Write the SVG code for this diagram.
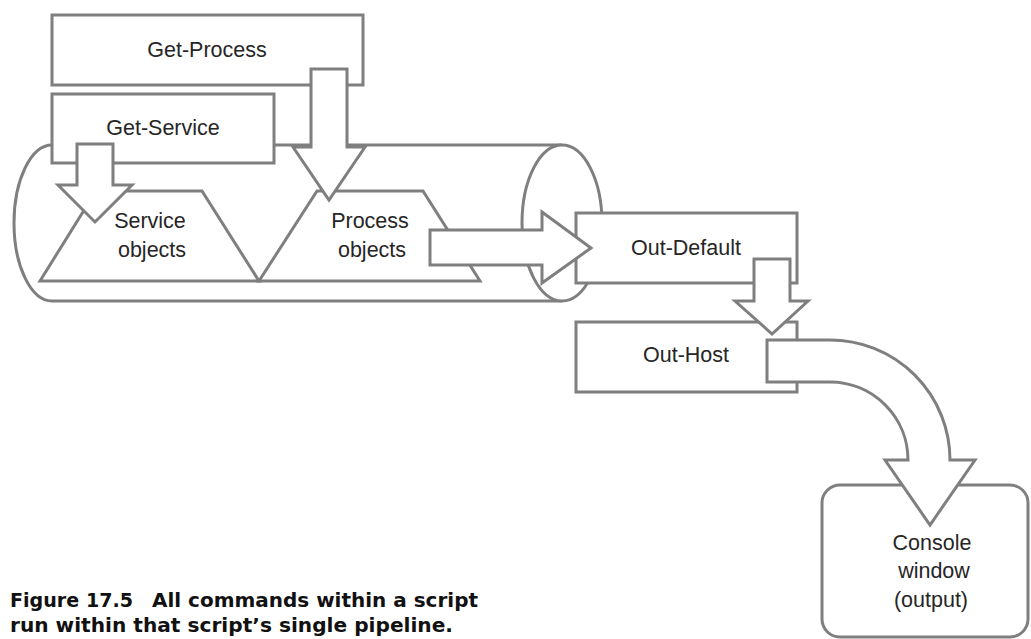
<svg xmlns="http://www.w3.org/2000/svg" width="1031" height="639" viewBox="0 0 1031 639">
<style>
.s{fill:#fff;stroke:#7f7f7f;stroke-width:3;stroke-linejoin:miter}
.t{font-family:"Liberation Sans",Arial,sans-serif;font-size:21.5px;fill:#262626;text-anchor:middle}
.c{font-family:"DejaVu Sans",sans-serif;font-weight:bold;font-size:19.5px;fill:#111}
</style>
<rect width="1031" height="639" fill="#fff"/>
<g id="pipeline">
<path class="s" d="M562,145 H52 A38,78 0 0 0 52,301 H562"/>
<ellipse class="s" cx="562" cy="223" rx="40" ry="78"/>
</g>
<g id="service-objects">
<polygon class="s" points="40,281 96,191 202,191 259,281"/>
<text class="t" x="150" y="228">Service</text>
<text class="t" x="152" y="257">objects</text>
</g>
<g id="process-objects">
<polygon class="s" points="259,281 317,191 423,191 480,281"/>
<text class="t" x="370" y="228">Process</text>
<text class="t" x="372" y="257">objects</text>
</g>
<g id="get-process">
<rect class="s" x="52" y="15" width="311" height="70"/>
<text class="t" x="207" y="57">Get-Process</text>
</g>
<g id="get-service">
<rect class="s" x="52" y="94" width="222" height="69"/>
<text class="t" x="163" y="135">Get-Service</text>
</g>
<g id="out-default">
<rect class="s" x="576" y="213" width="221" height="70"/>
<text class="t" x="686" y="255">Out-Default</text>
</g>
<g id="out-host">
<rect class="s" x="576" y="322" width="221" height="70"/>
<text class="t" x="686" y="362">Out-Host</text>
</g>
<g id="console">
<rect class="s" x="822" y="485" width="206" height="152" rx="18"/>
<text class="t" x="932" y="550">Console</text>
<text class="t" x="934" y="578">window</text>
<text class="t" x="931" y="607">(output)</text>
</g>
<g id="connectors">
<path class="s" d="M77,144 H113 V185 H132 L95,222 L58,185 H77 Z"/>
<path class="s" d="M311,69 H347 V147 H365 L329,200 L293,147 H311 Z"/>
<path class="s" d="M430,230 H542 V212 L591,248 L542,283 V265 H430 Z"/>
<path class="s" d="M754,259 H790 V301 H808 L772,334 L735,301 H754 Z"/>
<path class="s" d="M767,340 H830 A120,120 0 0 1 950,460 H975 L930,525 L885,460 H908 A78,78 0 0 0 830,382 H767 Z"/>
</g>
<g id="caption">
<text class="c" x="10" y="607" textLength="123" lengthAdjust="spacingAndGlyphs">Figure 17.5</text>
<text class="c" x="152" y="607" textLength="326" lengthAdjust="spacingAndGlyphs">All commands within a script</text>
<text class="c" x="10" y="632" textLength="443" lengthAdjust="spacingAndGlyphs">run within that script’s single pipeline.</text>
</g>
</svg>
